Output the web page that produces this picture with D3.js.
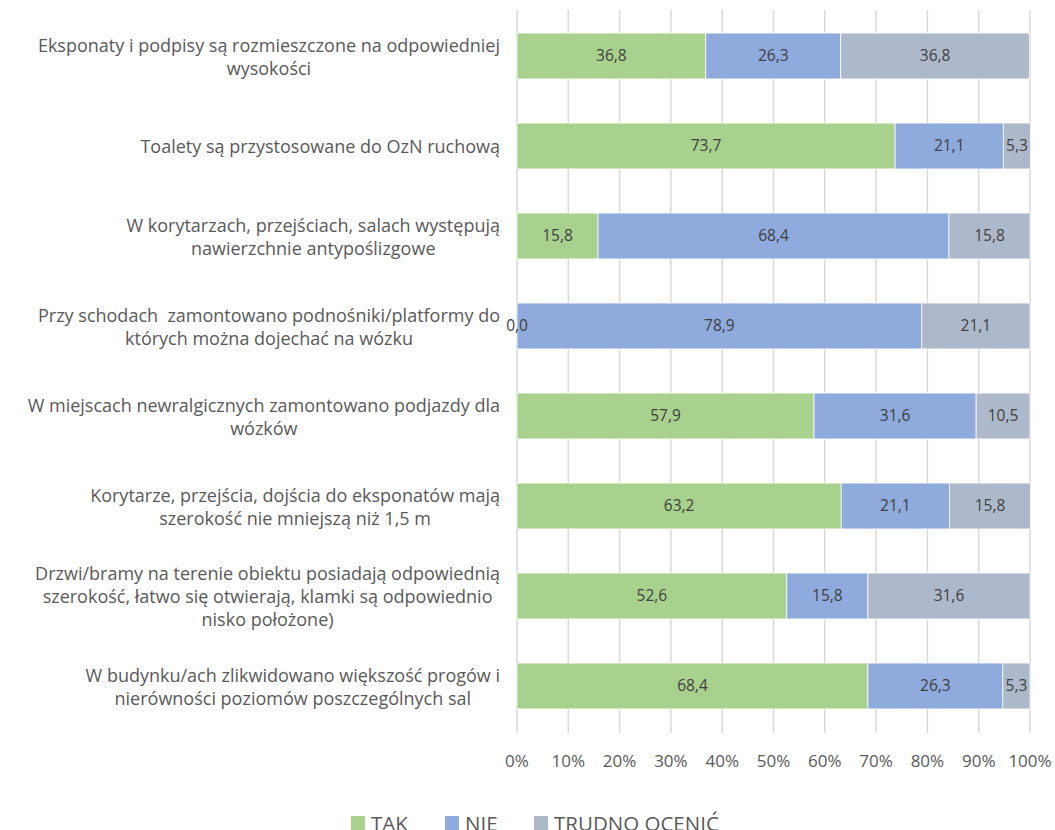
<!DOCTYPE html>
<meta charset="utf-8">
<head>
  <title>Dostępność obiektu</title>
</head>

<style>
body {
  margin: 0;
  background: #fff;
  font-family: "Open Sans", Lato, sans-serif;
}
</style>

<body>
  <div id="content"></div>

  <script src="https://cdnjs.cloudflare.com/ajax/libs/d3/7.8.5/d3.min.js"></script>

  <script>
// categories, top to bottom (lines as they wrap in the original)
var categories = [
  ["Eksponaty i podpisy są rozmieszczone na odpowiedniej", "wysokości"],
  ["Toalety są przystosowane do OzN ruchową"],
  ["W korytarzach, przejściach, salach występują", "nawierzchnie antypoślizgowe"],
  ["Przy schodach  zamontowano podnośniki/platformy do", "których można dojechać na wózku"],
  ["W miejscach newralgicznych zamontowano podjazdy dla", "wózków"],
  ["Korytarze, przejścia, dojścia do eksponatów mają", "szerokość nie mniejszą niż 1,5 m"],
  ["Drzwi/bramy na terenie obiektu posiadają odpowiednią", "szerokość, łatwo się otwierają, klamki są odpowiednio", "nisko położone)"],
  ["W budynku/ach zlikwidowano większość progów i", "nierówności poziomów poszczególnych sal"]
];

var seriesNames = ["TAK", "NIE", "TRUDNO OCENIĆ"];
var tak     = [36.8, 73.7, 15.8, 0.0, 57.9, 63.2, 52.6, 68.4];
var nie     = [26.3, 21.1, 68.4, 78.9, 31.6, 21.1, 15.8, 26.3];
var trudno  = [36.8, 5.3, 15.8, 21.1, 10.5, 15.8, 31.6, 5.3];
var xTicks  = [0, 10, 20, 30, 40, 50, 60, 70, 80, 90, 100];

var colors = ["#a9d18e", "#8faadc", "#adb9ca"];

var width = 1055, height = 830;

var svg = d3.select('#content').append('svg')
  .attr('width', width)
  .attr('height', height);

var x = d3.scaleLinear().domain([0, 100]).range([517, 1030]);
var y = d3.scaleBand().domain(d3.range(categories.length)).range([11, 731]).paddingInner(0.49).paddingOuter(0.245);

// gridlines
svg.append('g')
  .selectAll('line')
  .data(xTicks)
  .join('line')
  .attr('x1', d => x(d)).attr('x2', d => x(d))
  .attr('y1', 10).attr('y2', 733)
  .attr('stroke', '#d9d9d9')
  .attr('stroke-width', 1.5);

// tick labels
svg.append('g')
  .selectAll('text')
  .data(xTicks)
  .join('text')
  .attr('x', d => x(d))
  .attr('y', 767)
  .attr('text-anchor', 'middle')
  .attr('fill', '#595959')
  .style('font-size', '17px')
  .text(d => d + '%');

// stack the series
var rows = categories.map((c, i) => ({i: i, s0: tak[i], s1: nie[i], s2: trudno[i]}));
var stack = d3.stack().keys(['s0', 's1', 's2']);
var layers = stack(rows);

var fmt = v => v.toFixed(1).replace('.', ',');

var barG = svg.append('g');
var valG = svg.append('g');

layers.forEach(function(layer, k) {
  barG.append('g').selectAll('rect')
    .data(layer)
    .join('rect')
    .attr('x', d => x(d[0]))
    .attr('y', d => y(d.data.i))
    .attr('width', d => x(d[1]) - x(d[0]))
    .attr('height', y.bandwidth())
    .attr('fill', colors[k])
    .attr('stroke', '#fff')
    .attr('stroke-width', 0.75);

  // value labels drawn above all bars so the 0,0 stays visible
  valG.append('g').selectAll('text')
    .data(layer)
    .join('text')
    .attr('x', d => (x(d[0]) + x(d[1])) / 2)
    .attr('y', d => y(d.data.i) + y.bandwidth() / 2)
    .attr('dy', '0.35em')
    .attr('text-anchor', 'middle')
    .attr('fill', '#404040')
    .style('font-size', '15.5px')
    .text(d => fmt(d[1] - d[0]));
});

// category labels, centred block whose right edge sits at 500
var lineH = 23;
var labels = svg.append('g')
  .selectAll('text')
  .data(categories)
  .join('text')
  .attr('text-anchor', 'middle')
  .attr('fill', '#595959')
  .style('white-space', 'pre')
  .style('font-size', '18px');

labels.each(function(lines, i) {
  var t = d3.select(this);
  var cy = y(i) + y.bandwidth() / 2 + 1;
  var top = cy - (lines.length - 1) * lineH / 2;
  lines.forEach(function(l, j) {
    t.append('tspan')
      .attr('x', 0)
      .attr('y', top + j * lineH)
      .attr('dy', '0.35em')
      .text(l);
  });
  var w = this.getBBox().width;
  t.selectAll('tspan').attr('x', 500 - w / 2);
});

// legend
var legX = [351, 445, 534];
var legend = svg.append('g')
  .selectAll('g')
  .data(seriesNames)
  .join('g')
  .attr('transform', (d, i) => 'translate(' + legX[i] + ',0)');

legend.append('rect')
  .attr('x', 0).attr('y', 816)
  .attr('width', 14).attr('height', 14)
  .attr('fill', (d, i) => colors[i]);

legend.append('text')
  .attr('x', 20)
  .attr('y', 831)
  .attr('fill', '#595959')
  .style('font-size', '20.5px')
  .text(d => d);
  </script>
</body>
</html>
